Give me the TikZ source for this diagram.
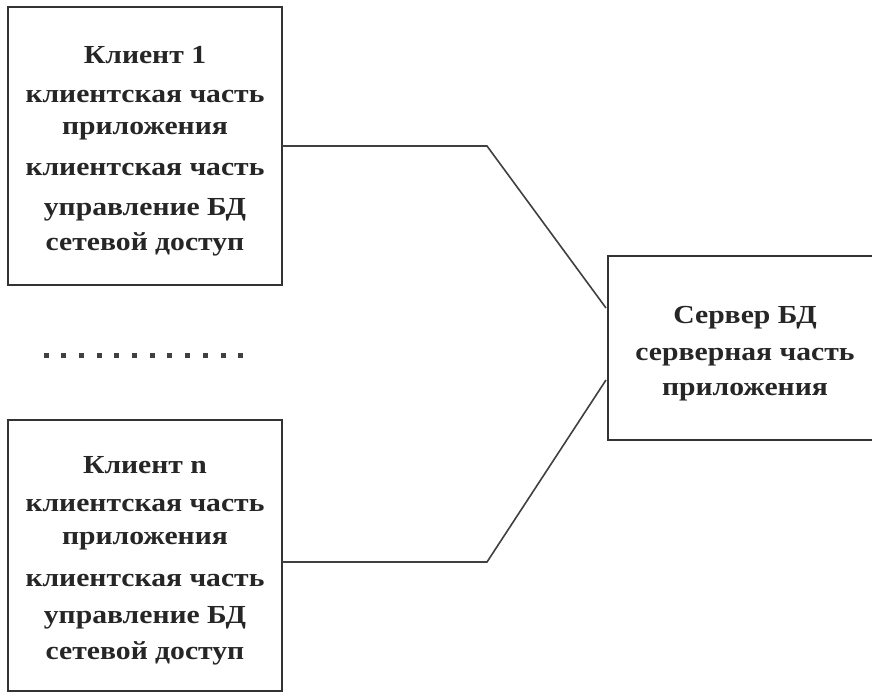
\documentclass[tikz,border=0pt]{standalone}
\usepackage{fontspec}
\setmainfont{Liberation Serif}
\newfontfamily\boxfont[FakeStretch=1.14]{Liberation Serif}
\begin{document}
\begin{tikzpicture}[x=1pt,y=-1pt,
  frame/.style={draw=black!80,line width=1.8pt},
  wire/.style={draw=black!75,line width=1.6pt},
  label/.style={font=\boxfont\fontsize{26}{26}\selectfont\bfseries,text=black!85,anchor=center},
  dot/.style={fill=black!75,minimum size=5pt,inner sep=0pt}]
\useasboundingbox (0,0) rectangle (872,693);
\clip (0,0) rectangle (872,693);
\fill[white] (0,0) rectangle (872,693);

% client boxes and the database server
\draw[frame] (8,7) rectangle (282,285);
\draw[frame] (8,420) rectangle (282,691);
\draw[frame] (608,256) rectangle (876,440);

% connection anchors on the box edges
\coordinate (c1) at (282,146);
\coordinate (b1) at (487,146);
\coordinate (s1) at (606,308);
\coordinate (cn) at (282,562);
\coordinate (bn) at (487,562);
\coordinate (sn) at (606,380);
\draw[wire] (c1) -- (b1) -- (s1);
\draw[wire] (cn) -- (bn) -- (sn);

% client 1 text
\node[label] (t11) at (145,55) {Клиент 1};
\node[label] (t12) at (145,97) {клиентская часть};
\node[label] (t13) at (145,131) {приложения};
\node[label] (t14) at (145,170) {клиентская часть};
\node[label] (t15) at (145,210) {управление БД};
\node[label] (t16) at (145,244) {сетевой доступ};

% client n text
\node[label] (tn1) at (145,465) {Клиент n};
\node[label] (tn2) at (145,505) {клиентская часть};
\node[label] (tn3) at (145,541) {приложения};
\node[label] (tn4) at (145,580) {клиентская часть};
\node[label] (tn5) at (145,618) {управление БД};
\node[label] (tn6) at (145,653) {сетевой доступ};

% server text
\node[label] (ts1) at (745,318) {Сервер БД};
\node[label] (ts2) at (745,357) {серверная часть};
\node[label] (ts3) at (745,392) {приложения};

% ellipsis between the clients
\foreach \i in {0,...,11}
  \node[dot] (d\i) at ({46+\i*17.7},355) {};
\end{tikzpicture}
\end{document}
